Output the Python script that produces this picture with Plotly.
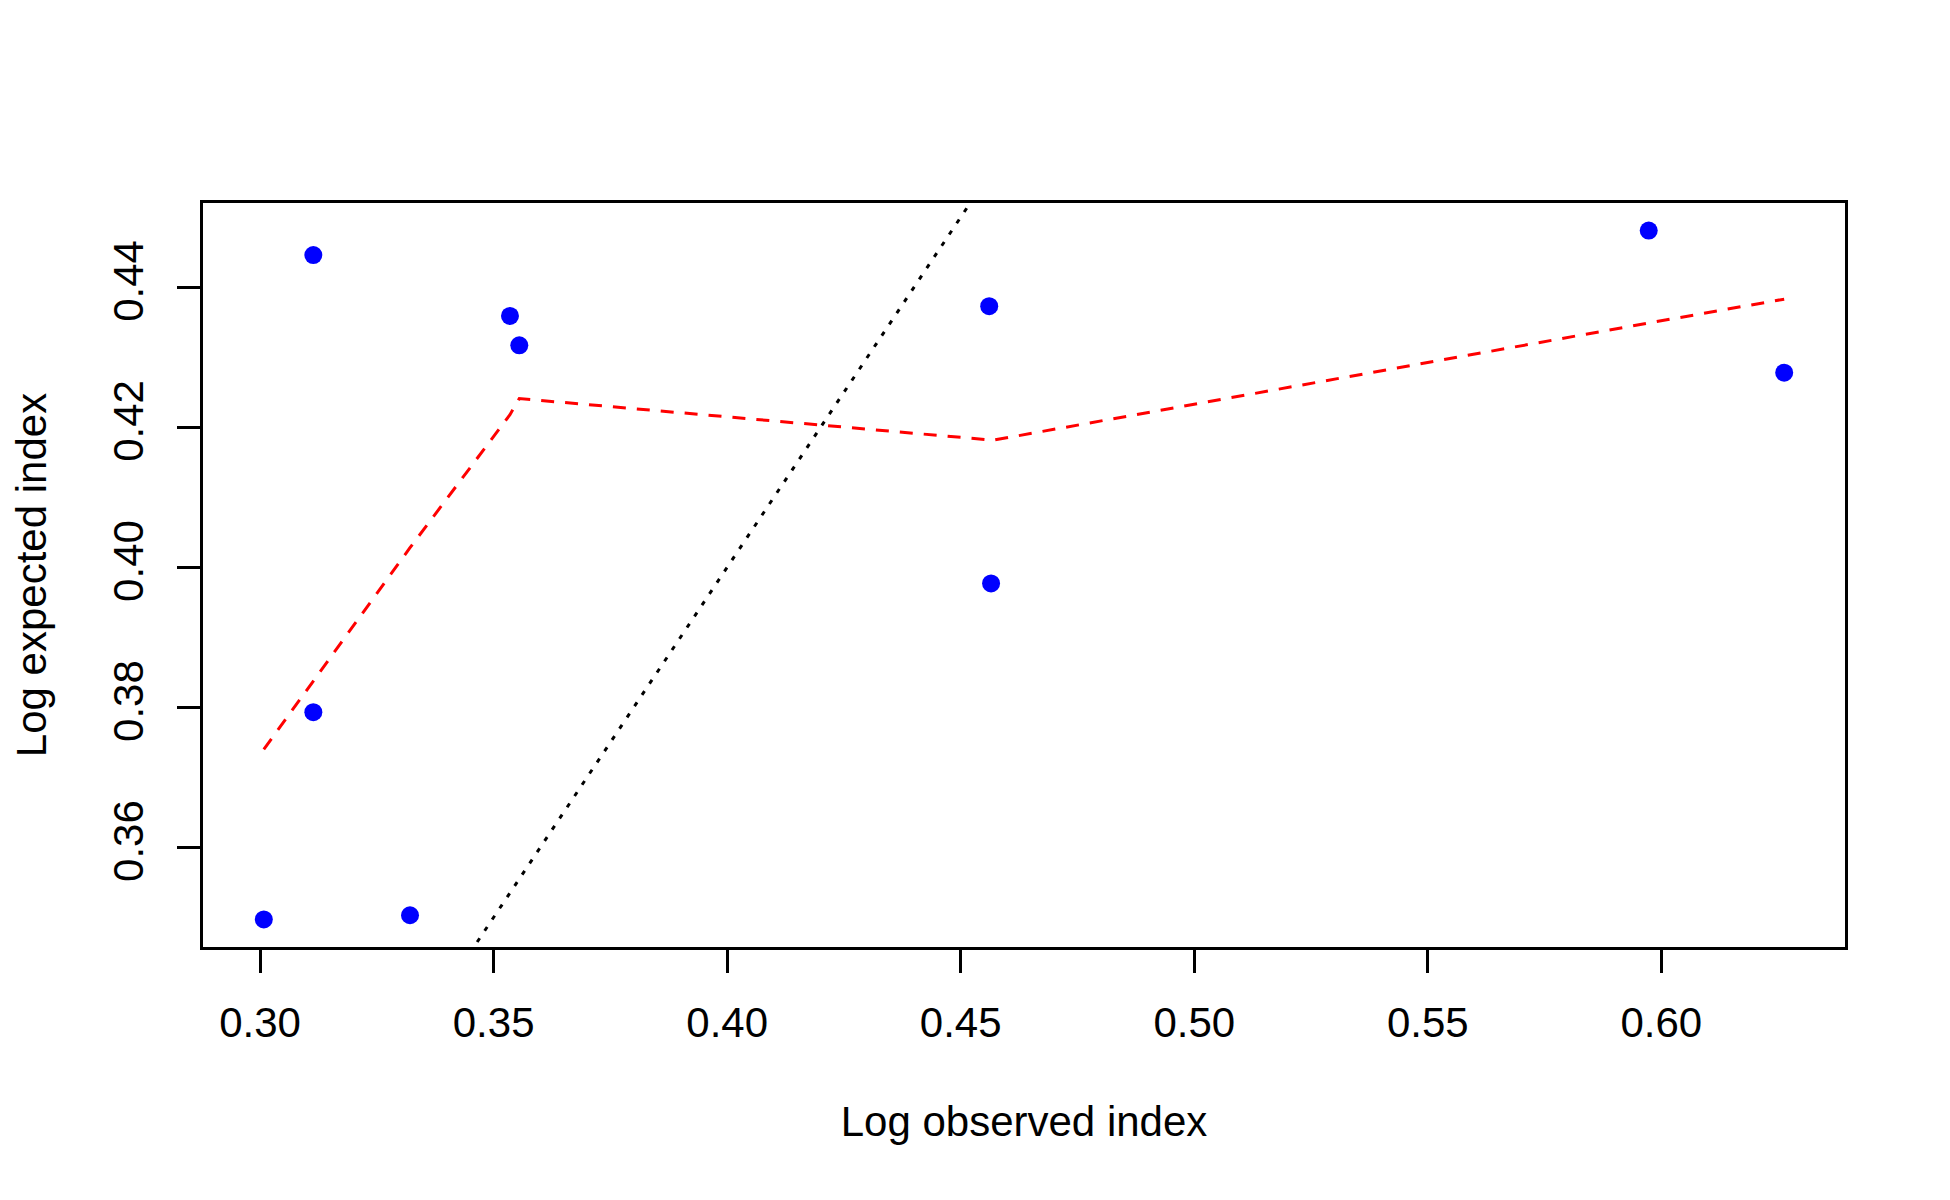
import plotly.graph_objects as go

# observed vs expected (log scale values)
log_observed = [0.3008, 0.3114, 0.3114, 0.3321, 0.3535, 0.3555, 0.4561, 0.4565, 0.5973, 0.6263]
log_expected = [0.3497, 0.4446, 0.3793, 0.3503, 0.4359, 0.4317, 0.4373, 0.3977, 0.4481, 0.4278]

# smoothed fit (red dashed)
smooth_x = [0.3008, 0.3114, 0.3321, 0.3535, 0.3555, 0.4561, 0.4565, 0.5973, 0.6263]
smooth_y = [0.3740, 0.3837, 0.4028, 0.4218, 0.4241, 0.4182, 0.4181, 0.4349, 0.4383]

# identity line y = x
diag = [0.0, 1.0]

xticks = [0.30, 0.35, 0.40, 0.45, 0.50, 0.55, 0.60]
yticks = [0.36, 0.38, 0.40, 0.42, 0.44]


def padded(vals, frac=0.04):
    # same 4% extension as R's default axis style
    lo, hi = min(vals), max(vals)
    d = (hi - lo) * frac
    return [lo - d, hi + d]


font = dict(family="Liberation Sans, Arial, sans-serif", size=42, color="black")

fig = go.Figure()
fig.add_trace(go.Scatter(
    x=diag, y=diag, mode="lines",
    line=dict(color="black", width=3, dash="4.5px,9px"),
    showlegend=False, hoverinfo="skip"))
fig.add_trace(go.Scatter(
    x=smooth_x, y=smooth_y, mode="lines",
    line=dict(color="rgb(255,0,0)", width=3, dash="13px,11px"),
    showlegend=False))
fig.add_trace(go.Scatter(
    x=log_observed, y=log_expected, mode="markers",
    marker=dict(color="rgb(0,0,255)", size=18, line=dict(width=0)),
    showlegend=False))

fig.update_layout(
    width=1950, height=1200,
    paper_bgcolor="white", plot_bgcolor="white",
    margin=dict(l=195, r=113, t=195, b=261),
    font=font,
    xaxis=dict(
        range=padded(log_observed), tickvals=xticks,
        ticktext=["%.2f" % v for v in xticks],
        showgrid=False, zeroline=False,
        showline=True, linecolor="black", linewidth=3, mirror=True,
        ticks="outside", ticklen=23, tickwidth=3, tickcolor="black",
        tickfont=font, ticklabelstandoff=14,
        title=dict(text="Log observed index", font=font, standoff=62),
    ),
    yaxis=dict(
        range=padded(log_expected), tickvals=yticks,
        ticktext=["%.2f" % v for v in yticks],
        showgrid=False, zeroline=False,
        showline=True, linecolor="black", linewidth=3, mirror=True,
        ticks="outside", ticklen=23, tickwidth=3, tickcolor="black",
        tickangle=-90, tickfont=font, ticklabelstandoff=17,
        title=dict(text="Log expected index", font=font, standoff=48),
    ),
)

fig.write_html("out.html")
